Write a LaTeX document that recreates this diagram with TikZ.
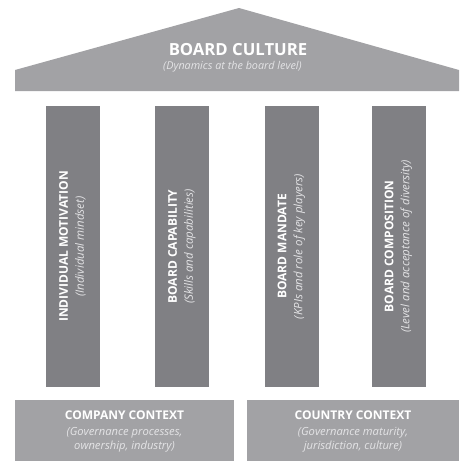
\documentclass[tikz,border=0pt]{standalone}
\usepackage{fontspec}
\setmainfont{Open Sans}
\definecolor{roofgray}{HTML}{A2A2A5}
\definecolor{pillargray}{HTML}{808084}
\definecolor{subgray}{HTML}{E4E4E6}

\begin{document}
\begin{tikzpicture}[x = 1pt, y = -1pt, inner sep = 0pt, every node/.style = {align = center, text = white},
    pillar/.style = {fill = pillargray, rotate = 90, minimum width = 281pt, minimum height = 54pt,
        font = \fontsize{11.5}{16}\selectfont},
    base/.style = {fill = roofgray, minimum height = 61pt},
    title/.style = {font = \bfseries\fontsize{12}{15}\selectfont, anchor = base},
    sub/.style = {font = \itshape\fontsize{11.2}{14.5}\selectfont, text = subgray, anchor = base}]
    \useasboundingbox (0, 0) rectangle (459, 461);
    % roof
    \fill[roofgray] (15, 91) -- (15, 70) -- (239, 8) -- (459, 70) -- (459, 91) -- cycle;
    \node[title, font = \bfseries\fontsize{16.7}{20}\selectfont] (culture) at (238, 55) {BOARD CULTURE};
    \node[sub, font = \itshape\fontsize{10.8}{13}\selectfont] (dynamics) at (232.5, 69) {(Dynamics at the board level)};
    % pillars
    \node[pillar] (p1) at (72.5, 246.5) {{\bfseries\fontsize{12}{16}\selectfont INDIVIDUAL MOTIVATION}\\
        {\itshape\color{subgray}(Individual mindset)}};
    \node[pillar] (p2) at (182, 246.5) {{\bfseries\fontsize{12}{16}\selectfont BOARD CAPABILITY}\\
        {\itshape\color{subgray}(Skills and capabilities)}};
    \node[pillar] (p3) at (291.5, 246.5) {{\bfseries\fontsize{12}{16}\selectfont BOARD MANDATE}\\
        {\itshape\color{subgray}(KPIs and role of key players)}};
    \node[pillar] (p4) at (398.5, 246.5) {{\bfseries\fontsize{12}{16}\selectfont BOARD COMPOSITION}\\
        {\itshape\color{subgray}(Level and acceptance of diversity)}};
    % foundation
    \node[base, minimum width = 219pt] (company) at (124.5, 430.5) {};
    \node[base, minimum width = 212pt] (country) at (353, 430.5) {};
    \node[title] (ctitle) at (124.5, 419) {COMPANY CONTEXT};
    \node[sub] (csub) at (124.5, 435) {(Governance processes,};
    \node[sub] (csub2) at (124.5, 449.5) {ownership, industry)};
    \node[title] (ntitle) at (353, 419) {COUNTRY CONTEXT};
    \node[sub] (nsub) at (353, 435) {(Governance maturity,};
    \node[sub] (nsub2) at (353, 449.5) {jurisdiction, culture)};
\end{tikzpicture}
\end{document}
